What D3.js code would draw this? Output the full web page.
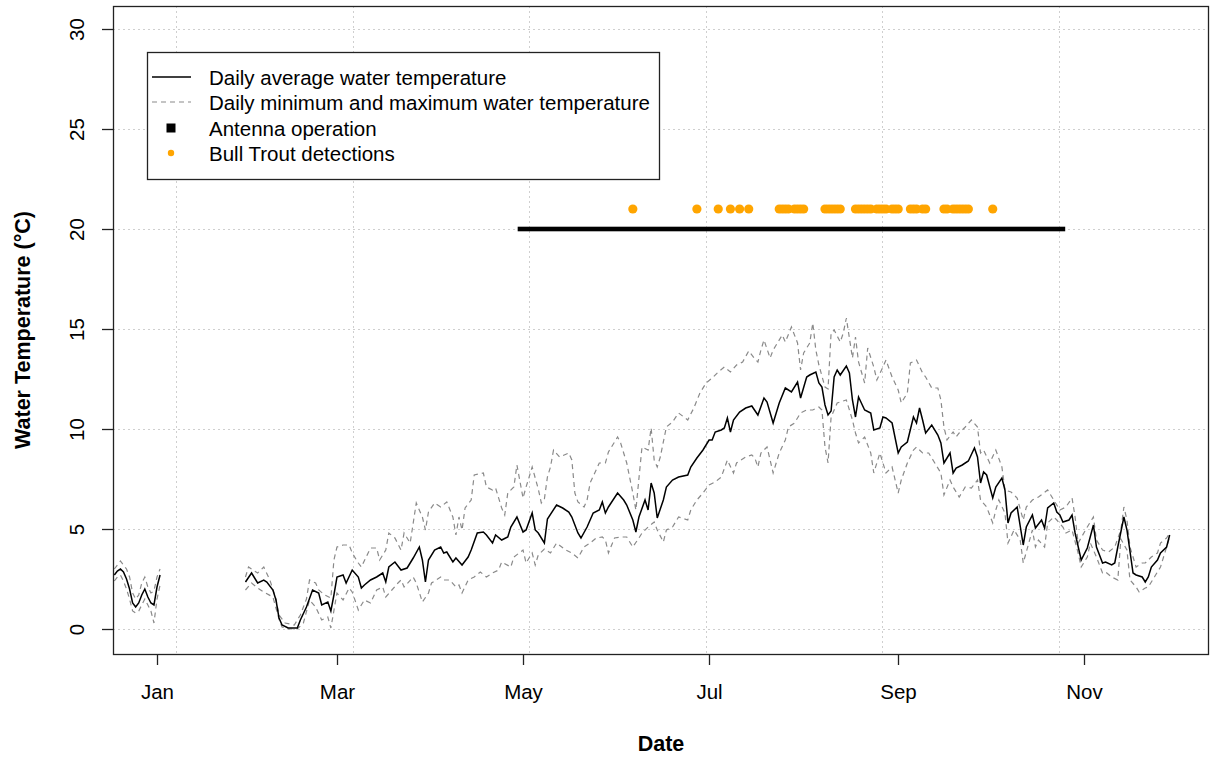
<!DOCTYPE html>
<html>
<head>
<meta charset="utf-8">
<script src="https://cdn.jsdelivr.net/npm/d3@7"></script>
<style>
  html, body { margin: 0; padding: 0; background: #fff; }
  svg { display: block; }
  text { font-family: "Liberation Sans", Arial, sans-serif; fill: #000; }
</style>
</head>
<body>
<svg id="chart" width="1211" height="757"></svg>
<script>
// ---------------- DATA (day number of 2021: 0 = 1 Jan 2021; negative = Dec 2020) ----------------
const avgDay = [-14,-13,-12,-11,-10,-9,-8,-7,-6,-5,-4,-3,-2,-1,0,1,
  29,31,33,35,36,38,39,40,41,43,46,47,49,51,53,54,56,57,58,59,61,62,64,66,67,68,70,72,74,75,76,78,80,82,84,86,87,88,89,91,93,94,95,97,98,100,102,103,105,107,108,110,111,113,115,116,118,120,121,123,124,125,127,128,131,133,135,136,138,139,141,143,145,146,147,148,151,153,154,156,157,158,160,161,162,163,164,166,167,169,171,174,175,177,179,181,182,183,185,186,187,188,189,191,193,195,197,199,200,202,204,206,208,210,211,213,214,216,217,218,219,220,221,222,223,224,226,227,228,229,230,232,234,235,237,238,239,241,243,244,246,248,249,250,251,252,254,256,257,258,260,261,262,264,266,268,269,270,271,272,274,275,277,278,279,280,282,284,285,287,288,290,291,292,294,295,296,297,299,300,301,303,305,307,308,310,311,313,314,315,317,318,320,321,323,324,325,326,328,329,331,332];
const avgTemp = [2.7,2.9,3.0,2.85,2.5,2.0,1.3,1.1,1.3,1.7,2.0,1.6,1.3,1.2,2.1,2.7,
  2.35,2.8,2.3,2.45,2.35,1.95,1.45,0.55,0.2,0.05,0.05,0.45,1.1,1.95,1.8,1.2,1.35,0.9,1.7,2.6,2.7,2.3,2.95,2.6,2.05,2.2,2.45,2.6,2.8,2.35,3.1,3.35,2.95,3.05,3.55,4.1,3.45,2.35,3.45,3.95,4.1,3.8,3.85,3.35,3.55,3.2,3.6,3.95,4.8,4.85,4.7,4.3,4.7,4.45,4.6,5.1,5.6,4.85,4.95,5.8,4.95,4.8,4.3,5.5,6.2,6.05,5.85,5.6,4.8,4.55,5.1,5.8,5.95,6.35,5.8,6.1,6.8,6.45,6.2,5.45,4.85,5.6,6.45,5.95,7.3,6.8,5.55,6.45,7.1,7.45,7.6,7.7,8.1,8.55,8.95,9.45,9.45,9.85,9.95,10.05,10.55,9.85,10.45,10.85,11.05,11.15,10.7,11.55,11.35,10.3,11.3,12.05,11.85,12.35,11.55,12.6,12.7,12.85,12.3,12.1,11.2,10.7,10.9,12.6,12.95,12.7,13.15,12.8,11.45,10.6,11.6,10.95,10.8,9.95,10.05,10.6,10.55,10.3,8.8,9.1,9.35,10.6,10.3,11.05,10.45,9.8,10.2,9.7,9.3,8.3,8.8,7.8,8.05,8.2,8.4,9.05,8.6,7.3,7.85,7.7,6.55,7.1,7.55,6.95,5.3,5.8,6.1,4.2,5.1,5.7,5.05,5.45,5.05,6.05,6.3,5.85,5.7,5.35,5.45,5.7,4.8,3.45,4.05,5.2,4.1,3.3,3.35,3.2,3.3,4.1,5.6,4.95,2.8,2.7,2.6,2.35,2.6,3.1,3.45,3.8,4.1,4.7];

const maxDay = [-14,-13,-12,-11,-10,-9,-8,-7,-6,-5,-4,-3,-2,-1,0,1,
  29,30,33,35,37,39,40,42,45,47,49,50,52,53,55,57,58,59,61,63,64,66,67,70,72,73,75,76,78,80,81,83,84,85,87,88,89,91,93,95,97,98,99,100,101,103,104,107,108,110,111,113,114,115,117,118,120,121,123,125,126,127,128,129,130,132,135,136,137,138,140,141,142,145,147,148,151,152,154,156,157,159,161,162,163,164,165,167,169,171,174,176,178,180,182,184,186,188,190,192,194,196,197,198,199,201,202,205,206,208,210,211,212,214,215,216,217,219,220,221,222,224,225,226,228,229,230,232,233,235,236,238,239,241,243,244,246,247,249,251,252,254,256,257,258,259,261,262,263,265,267,269,270,271,273,275,277,278,280,282,284,285,287,289,292,294,296,298,300,301,302,305,307,308,310,312,314,316,317,318,319,321,323,324,326,328,329,331,332];
const maxTemp = [3.0,3.2,3.4,3.2,3.0,2.6,1.8,1.5,1.7,2.3,2.6,2.1,1.8,1.9,2.6,3.0,
  2.6,3.1,2.8,3.1,2.45,1.5,0.7,0.3,0.2,0.7,1.5,2.45,2.3,1.95,1.7,1.55,3.45,4.1,4.2,4.2,3.8,3.3,3.1,4.05,4.05,3.45,3.95,4.8,4.55,3.95,4.8,4.3,5.3,6.3,5.6,4.95,5.85,6.3,6.1,6.35,5.6,4.7,5.6,4.95,6.05,6.45,7.7,7.8,7.1,6.95,7.05,6.05,5.7,6.8,7.1,8.2,6.55,7.1,8.1,7.0,6.3,6.5,7.6,8.1,8.95,8.6,8.8,8.45,6.8,6.35,6.1,6.45,7.3,8.3,8.3,8.85,9.6,9.3,8.3,6.8,5.95,9.1,8.95,10.05,8.45,8.1,8.6,10.1,10.35,10.8,10.45,11.05,11.8,12.3,12.55,12.85,13.1,12.85,13.2,13.35,13.9,13.5,13.35,13.95,14.45,13.55,13.95,14.7,14.35,15.1,14.3,12.95,13.8,14.3,15.3,13.95,13.2,12.1,12.0,14.8,14.95,14.35,14.8,15.55,13.55,14.6,13.35,12.3,14.05,13.1,12.45,13.1,13.45,12.6,11.95,11.3,11.8,13.3,13.45,12.8,12.6,12.05,12.05,11.45,10.1,9.45,9.85,9.6,9.8,10.1,10.45,10.1,8.8,8.95,8.3,8.95,8.1,6.95,6.85,6.55,5.45,6.1,6.45,6.6,6.95,6.45,5.95,6.1,6.55,5.6,4.3,5.1,5.6,4.45,3.95,3.85,4.1,4.95,6.1,5.45,4.1,3.1,3.3,3.3,3.6,3.8,4.3,4.55,4.8];

const minDay = [-14,-13,-12,-11,-10,-9,-8,-7,-6,-5,-4,-3,-2,-1,0,1,
  29,31,33,35,38,40,41,43,46,48,50,52,54,56,57,59,61,63,64,66,68,70,72,74,75,77,79,80,81,84,85,87,89,90,93,94,96,98,99,100,102,104,106,108,110,112,113,116,117,120,121,123,124,125,127,129,131,134,136,138,140,142,144,146,147,148,150,152,154,156,158,159,161,163,164,166,167,169,171,174,175,177,179,181,183,185,187,189,190,193,195,196,197,198,200,202,204,206,207,209,211,213,215,217,218,219,220,221,223,224,226,228,229,230,232,234,235,237,238,239,241,243,244,246,248,249,251,253,255,257,258,260,261,263,265,267,269,270,272,274,275,276,278,279,281,283,284,285,287,288,289,291,292,294,295,297,298,300,302,303,305,306,308,310,311,313,315,316,318,319,321,322,324,325,327,329,330,332];
const minTemp = [2.4,2.6,2.7,2.4,2.0,1.5,0.9,0.8,0.9,1.2,1.5,1.2,0.9,0.3,1.5,2.2,
  1.95,2.3,2.05,1.85,1.6,0.5,0.1,0.0,0.0,0.3,1.45,1.1,0.45,0.6,0.05,1.8,1.45,2.05,1.85,0.95,1.45,1.3,1.95,2.1,1.6,1.95,2.3,2.45,2.1,2.6,2.3,1.35,1.8,2.3,2.6,2.45,2.45,2.1,2.2,1.8,2.45,2.6,2.85,2.6,2.8,2.95,3.35,3.1,3.6,3.95,3.3,3.8,3.2,3.7,4.0,3.8,4.3,3.95,3.8,3.55,4.1,4.3,4.55,4.6,4.45,3.8,4.55,4.6,4.6,4.1,4.55,4.8,5.1,5.35,4.95,4.35,4.95,5.1,5.6,5.45,5.95,6.45,6.8,7.2,7.35,7.6,8.45,7.8,8.3,8.6,8.7,8.55,8.1,8.8,9.1,7.8,8.8,9.45,10.1,10.3,10.8,10.95,10.95,11.1,10.95,9.1,8.3,10.6,11.3,11.35,11.45,10.45,9.8,9.3,9.6,8.8,7.8,8.8,8.3,7.8,8.1,6.8,7.45,8.3,8.95,9.1,8.8,8.8,8.3,7.8,6.7,7.45,7.1,6.6,7.1,7.05,7.45,6.45,6.1,5.3,5.95,6.45,5.8,4.3,4.95,4.45,3.3,3.85,4.95,4.1,4.45,4.1,5.3,5.6,5.45,5.1,4.8,4.95,3.8,3.1,3.6,4.3,3.6,2.8,2.85,2.6,2.45,4.5,3.95,2.45,2.1,1.85,2.05,2.1,2.6,3.1,3.6,4.6];

// Antenna operation period (day numbers of 2021)
const antennaStartDay = 119;
const antennaEndDay = 297;
const antennaLevel = 20;

// Bull Trout detection days (day numbers of 2021)
const detectionDays = [156,177,184,188,191,194,
  204,205,206,207,209,210,211,212,
  219,220,221,222,223,224,
  229,230,231,232,233,234,236,237,238,239,241,242,243,
  247,248,249,251,252,
  258,259,261,262,263,264,265,266,
  274];
const detectionLevel = 21;

// Axis ticks
const yTicks = [0, 5, 10, 15, 20, 25, 30];
const xTickMonths = [0, 2, 4, 6, 8, 10];   // month index in 2021
const xTickLabels = ["Jan", "Mar", "May", "Jul", "Sep", "Nov"];
const xGridSeconds = [1.61e9, 1.615e9, 1.62e9, 1.625e9, 1.63e9, 1.635e9];
const xLimDays = [-14.43, 344.9];
const yLim = [-1.25, 31.15];

const legendLabels = ["Daily average water temperature",
  "Daily minimum and maximum water temperature",
  "Antenna operation",
  "Bull Trout detections"];

// ---------------- DRAW ----------------
const base = Date.UTC(2021, 0, 1);
const toDate = d => new Date(base + d * 86400000);

const L = 113, R = 1209, T = 6, B = 654;
const svg = d3.select("#chart");

const x = d3.scaleUtc().domain(xLimDays.map(toDate)).range([L, R]);
const y = d3.scaleLinear().domain(yLim).range([B, T]);

const FS = 20.5;

// grid
const grid = svg.append("g").attr("stroke", "#cfcfcf").attr("stroke-width", 1)
  .attr("stroke-dasharray", "2,3");
xGridSeconds.forEach(s => {
  const gx = Math.round(x(new Date(s * 1000))) + 0.5;
  grid.append("line").attr("x1", gx).attr("x2", gx).attr("y1", T).attr("y2", B);
});
yTicks.forEach(v => {
  const gy = Math.round(y(v)) + 0.5;
  grid.append("line").attr("x1", L).attr("x2", R).attr("y1", gy).attr("y2", gy);
});

// helper to build segmented series
function series(days, vals) {
  const pts = [];
  for (let i = 0; i < days.length; i++) {
    if (i > 0 && days[i] - days[i - 1] > 7) pts.push(null);
    pts.push({ d: toDate(days[i]), v: vals[i] });
  }
  return pts;
}
const line = d3.line().defined(p => p !== null).x(p => x(p.d)).y(p => y(p.v));

const plot = svg.append("g");
plot.append("path").datum(series(minDay, minTemp)).attr("d", line)
  .attr("fill", "none").attr("stroke", "#8a8a8a").attr("stroke-width", 1.2)
  .attr("stroke-dasharray", "5,4");
plot.append("path").datum(series(maxDay, maxTemp)).attr("d", line)
  .attr("fill", "none").attr("stroke", "#8a8a8a").attr("stroke-width", 1.2)
  .attr("stroke-dasharray", "5,4");
plot.append("path").datum(series(avgDay, avgTemp)).attr("d", line)
  .attr("fill", "none").attr("stroke", "#000").attr("stroke-width", 1.5);

// antenna operation
const aH = 4.6;
plot.append("rect")
  .attr("x", x(toDate(antennaStartDay)) - aH / 2)
  .attr("width", x(toDate(antennaEndDay)) - x(toDate(antennaStartDay)) + aH)
  .attr("y", y(antennaLevel) - aH / 2).attr("height", aH).attr("fill", "#000");

// detections
plot.selectAll("circle.det").data(detectionDays).enter().append("circle")
  .attr("class", "det")
  .attr("cx", d => x(toDate(d))).attr("cy", y(detectionLevel)).attr("r", 4.6)
  .attr("fill", "#FFA500");

// box
svg.append("rect").attr("x", L + 0.5).attr("y", T + 0.5)
  .attr("width", R - L - 1).attr("height", B - T)
  .attr("fill", "none").attr("stroke", "#222").attr("stroke-width", 1.3);

// y axis ticks & labels
const yAx = svg.append("g");
yTicks.forEach(v => {
  const ty = Math.round(y(v)) + 0.5;
  yAx.append("line").attr("x1", L - 11).attr("x2", L).attr("y1", ty).attr("y2", ty)
    .attr("stroke", "#222").attr("stroke-width", 1.3);
  yAx.append("text").attr("transform", `translate(84,${ty}) rotate(-90)`)
    .attr("text-anchor", "middle").attr("font-size", FS).text(v);
});

// x axis ticks & labels
const xAx = svg.append("g");
xTickMonths.forEach((m, i) => {
  const tx = Math.round(x(new Date(Date.UTC(2021, m, 1)))) + 0.5;
  xAx.append("line").attr("x1", tx).attr("x2", tx).attr("y1", B).attr("y2", B + 11)
    .attr("stroke", "#222").attr("stroke-width", 1.3);
  xAx.append("text").attr("x", tx).attr("y", 699).attr("text-anchor", "middle")
    .attr("font-size", FS).text(xTickLabels[i]);
});

// axis titles
svg.append("text").attr("x", (L + R) / 2).attr("y", 751).attr("text-anchor", "middle")
  .attr("font-size", 21.5).attr("font-weight", "bold").text("Date");
svg.append("text").attr("transform", `translate(30,${(T + B) / 2}) rotate(-90)`)
  .attr("text-anchor", "middle").attr("font-size", 21.5).attr("font-weight", "bold")
  .text("Water Temperature (°C)");

// legend
const lg = svg.append("g");
lg.append("rect").attr("x", 147.5).attr("y", 52.5).attr("width", 512).attr("height", 127)
  .attr("fill", "#fff").attr("stroke", "#222").attr("stroke-width", 1.3);
const rowY = [77, 102, 128, 153];
lg.append("line").attr("x1", 152).attr("x2", 191).attr("y1", rowY[0]).attr("y2", rowY[0])
  .attr("stroke", "#000").attr("stroke-width", 1.5);
lg.append("line").attr("x1", 152).attr("x2", 191).attr("y1", rowY[1]).attr("y2", rowY[1])
  .attr("stroke", "#8a8a8a").attr("stroke-width", 1.2).attr("stroke-dasharray", "5,4");
lg.append("rect").attr("x", 171 - 4.5).attr("y", rowY[2] - 4.5).attr("width", 9).attr("height", 9)
  .attr("fill", "#000");
lg.append("circle").attr("cx", 171).attr("cy", rowY[3]).attr("r", 3.2).attr("fill", "#FFA500");
legendLabels.forEach((t, i) => {
  lg.append("text").attr("x", 209).attr("y", rowY[i] + 7.5).attr("font-size", FS).text(t);
});
</script>
</body>
</html>
